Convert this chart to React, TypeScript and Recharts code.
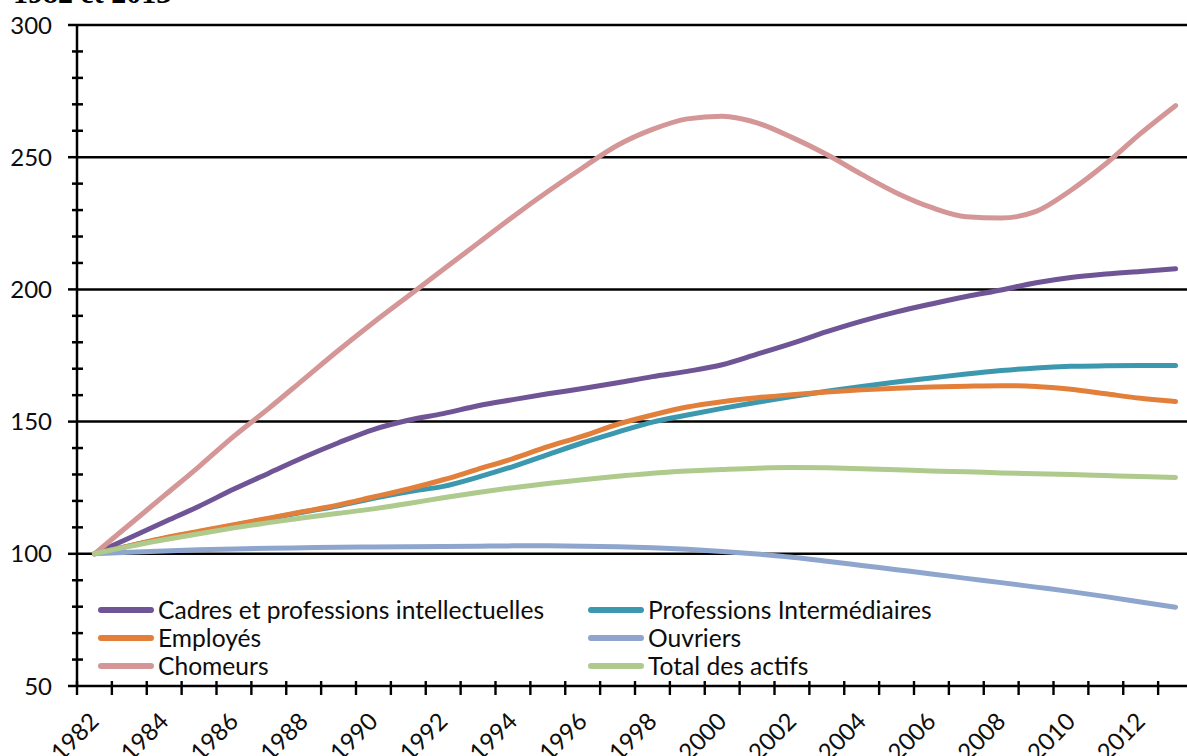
import React from 'react';
import { LineChart, Line, XAxis, YAxis, CartesianGrid, Legend } from 'recharts';

const years = [1982, 1983, 1984, 1985, 1986, 1987, 1988, 1989, 1990, 1991, 1992, 1993, 1994, 1995, 1996, 1997, 1998, 1999, 2000, 2001, 2002, 2003, 2004, 2005, 2006, 2007, 2008, 2009, 2010, 2011, 2012, 2013];

const cadres = [100, 106, 112, 118, 124.5, 130.5, 136.5, 142, 147, 150.5, 153, 156, 158.3, 160.5, 162.5, 164.7, 167, 169, 171.5, 175.5, 179.6, 184, 188, 191.5, 194.5, 197.3, 199.8, 202.5, 204.5, 205.8, 206.8, 207.8];
const profInter = [100, 103, 105.8, 108.3, 110.8, 113.3, 115.8, 118.2, 121, 123.5, 125.5, 129, 133, 137.5, 142, 146, 149.8, 152.5, 155, 157.3, 159.5, 161.5, 163.3, 165, 166.5, 168, 169.3, 170.3, 170.9, 171.1, 171.2, 171.2];
const employes = [100, 103, 106, 108.5, 111, 113.5, 116, 118.5, 121.5, 124.5, 128, 132, 136, 140.5, 144.5, 149, 152.5, 155.5, 157.5, 159, 160.2, 161.2, 162, 162.6, 163.1, 163.4, 163.6, 163.3, 162.2, 160.5, 158.8, 157.6];
const ouvriers = [100, 100.6, 101.1, 101.5, 101.8, 102.1, 102.3, 102.5, 102.6, 102.7, 102.8, 102.9, 103, 103, 102.9, 102.7, 102.3, 101.7, 100.9, 99.9, 98.7, 97.2, 95.6, 94, 92.4, 90.7, 89.1, 87.4, 85.7, 83.8, 81.8, 79.8];
const chomeurs = [100, 111, 122, 133, 144.5, 155, 166, 177, 187.5, 197.5, 207.5, 217.5, 227.5, 237, 246, 254.5, 260.5, 264.5, 265.5, 263, 257.5, 251, 243.5, 236.5, 231, 227.5, 227, 229.5, 237.5, 247.5, 259, 269.5];
const totalActifs = [100, 102.8, 105.3, 107.6, 109.8, 111.8, 113.6, 115.3, 117, 119, 121.2, 123.2, 125, 126.6, 128, 129.3, 130.5, 131.3, 131.9, 132.4, 132.6, 132.5, 132.2, 131.8, 131.3, 131, 130.6, 130.3, 130, 129.6, 129.2, 128.9];

const seriesNames = ['Cadres et professions intellectuelles', 'Professions Intermédiaires', 'Employés', 'Ouvriers', 'Chomeurs', 'Total des actifs'];
const seriesKeys = ['cadres', 'profInter', 'employes', 'ouvriers', 'chomeurs', 'totalActifs'];
const seriesColors = ['#705596', '#3C98AF', '#E2803B', '#8EA6CE', '#D49696', '#AECA8D'];
const seriesValues = [cadres, profInter, employes, ouvriers, chomeurs, totalActifs];

const yTicks = [50, 60, 70, 80, 90, 100, 110, 120, 130, 140, 150, 160, 170, 180, 190, 200, 210, 220, 230, 240, 250, 260, 270, 280, 290, 300];
const gridValues = [100, 150, 200, 250, 300];
const xBoundaries = [1981.5, ...years.map((y) => y + 0.5)];

const titleText = '1982 et 2013';

const data = years.map((year, i) => {
  const row: any = { year };
  seriesKeys.forEach((k, j) => {
    row[k] = seriesValues[j][i];
  });
  return row;
});

const FONT = 'Lato, "Noto Sans", sans-serif';
const TEXT_COLOR = '#0d0d0d';

function XTick(props: any) {
  const { x, y, payload, width } = props;
  const band = (width || 1116) / years.length;
  const yr = payload.value + 0.5;
  const showLabel = yr % 2 === 0 && yr <= 2012;
  const lx = x + band / 2 + 6;
  const ly = y + 37;
  return (
    <g>
      <line x1={x} x2={x} y1={y - 5} y2={y + 9} stroke="#000" strokeWidth={2.4} />
      {showLabel && (
        <text
          x={lx}
          y={ly}
          transform={`rotate(-45 ${lx} ${ly})`}
          textAnchor="end"
          fontFamily={FONT}
          fontSize={24}
          fill={TEXT_COLOR}
        >
          {yr}
        </text>
      )}
    </g>
  );
}

function YTick(props: any) {
  const { x, y, payload } = props;
  const v = payload.value;
  const major = v % 50 === 0;
  if (major) {
    return (
      <g>
        <line x1={x - 9} x2={x} y1={y} y2={y} stroke="#000" strokeWidth={2.5} />
        <text x={x - 25} y={y} dy="0.36em" textAnchor="end" fontFamily={FONT} fontSize={24} fill={TEXT_COLOR}>
          {v}
        </text>
      </g>
    );
  }
  return <line x1={x - 5} x2={x + 6} y1={y} y2={y} stroke="#000" strokeWidth={2.5} />;
}

function LegendContent() {
  return (
    <div
      style={{
        display: 'grid',
        gridTemplateColumns: '490px auto',
        fontFamily: FONT,
        fontSize: 24.6,
        color: TEXT_COLOR,
      }}
    >
      {seriesNames.map((name, j) => (
        <div key={name} style={{ display: 'flex', alignItems: 'center', height: 28, whiteSpace: 'nowrap' }}>
          <svg width={56} height={10} style={{ display: 'block' }}>
            <line x1={3} x2={53} y1={5} y2={5} stroke={seriesColors[j]} strokeWidth={6} strokeLinecap="round" />
          </svg>
          <span style={{ marginLeft: 4, lineHeight: '28px' }}>{name}</span>
        </div>
      ))}
    </div>
  );
}

export default function App() {
  return (
    <div style={{ position: 'fixed', left: 0, top: 0, width: 1187, height: 756, overflow: 'hidden', background: '#fff' }}>
      <svg width={400} height={20} style={{ position: 'absolute', left: 0, top: 0 }}>
        <text x={13} y={3} fontFamily='"Liberation Serif", serif' fontWeight="bold" fontSize={30} fill="#000">
          {titleText}
        </text>
      </svg>
      <div style={{ position: 'absolute', left: 0, top: 0 }}>
        <LineChart width={1200} height={756} data={data} margin={{ top: 25, right: 7, bottom: 0, left: 0 }}>
          <CartesianGrid
            vertical={false}
            horizontalValues={gridValues}
            syncWithTicks={false}
            stroke="#000"
            strokeWidth={2.5}
          />
          <XAxis
            dataKey="year"
            type="number"
            domain={[1981.5, 2013.5]}
            ticks={xBoundaries}
            interval={0}
            height={70}
            tickSize={0}
            tickMargin={0}
            tickLine={false}
            axisLine={{ stroke: '#000', strokeWidth: 2.5 }}
            tick={<XTick />}
          />
          <YAxis
            type="number"
            domain={[50, 300]}
            ticks={yTicks}
            interval={0}
            width={77}
            tickSize={0}
            tickMargin={0}
            tickLine={false}
            axisLine={{ stroke: '#000', strokeWidth: 2.5 }}
            tick={<YTick />}
          />
          {seriesKeys.map((k, j) => (
            <Line
              key={k}
              dataKey={k}
              name={seriesNames[j]}
              stroke={seriesColors[j]}
              strokeWidth={5}
              strokeLinecap="round"
              type="monotone"
              dot={false}
              activeDot={false}
              isAnimationActive={false}
            />
          ))}
          <Legend
            layout="vertical"
            align="center"
            verticalAlign="middle"
            wrapperStyle={{ left: 98, top: 596, width: 900 }}
            content={<LegendContent />}
          />
        </LineChart>
      </div>
    </div>
  );
}
